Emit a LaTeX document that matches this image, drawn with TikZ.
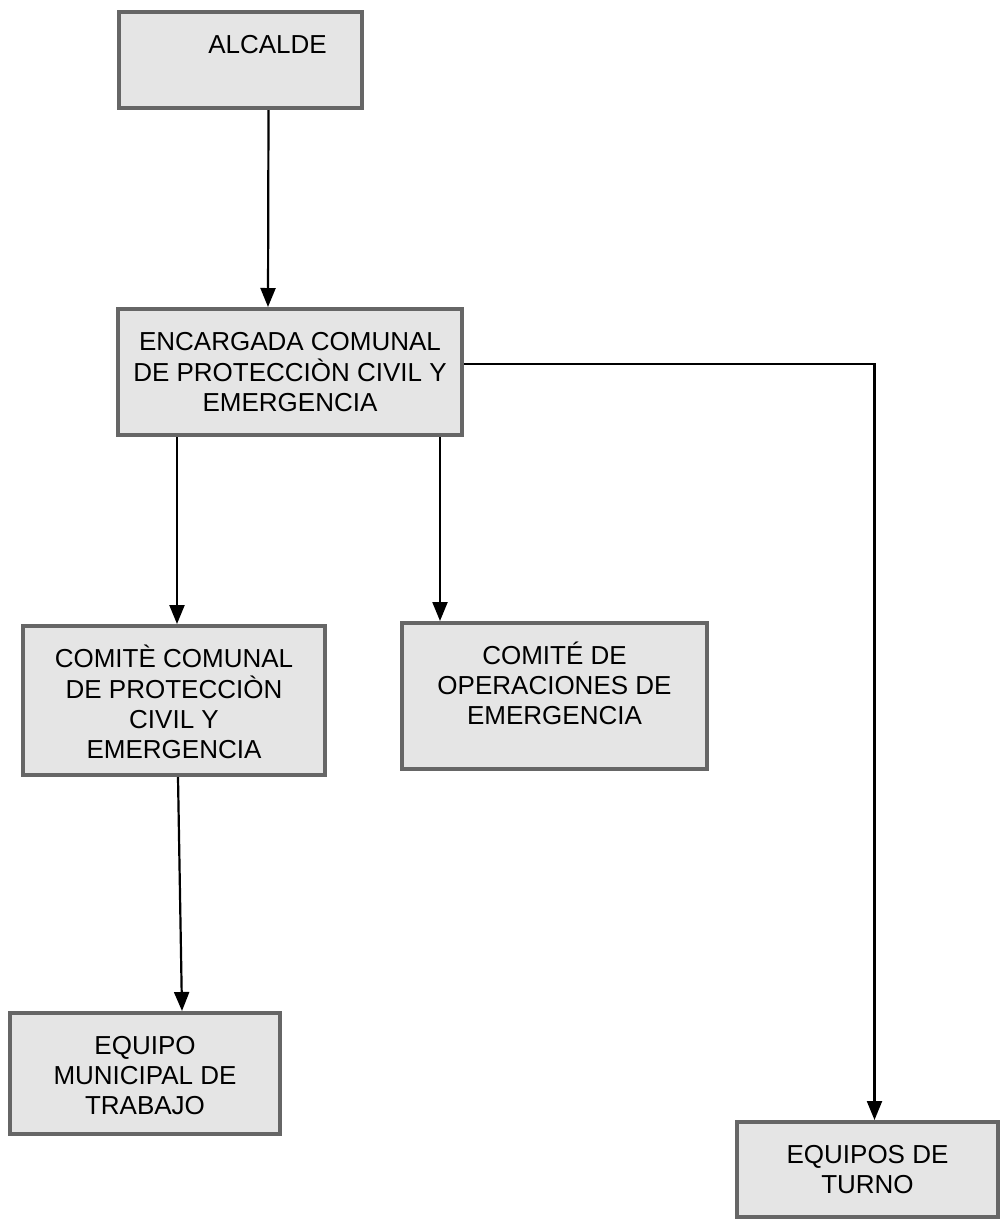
\documentclass[tikz,border=0pt]{standalone}
\usepackage{fontspec}
\setmainfont{Liberation Sans}
\usetikzlibrary{arrows.meta}
\newcommand{\boxlines}[1]{\begin{tabular}[t]{@{}c@{}}#1\end{tabular}}
\begin{document}
\begin{tikzpicture}[x=1pt, y=-1pt]
      \tikzstyle{BOX} = [draw=black!60, line width=4pt, fill=black!10, rectangle, anchor=north, inner xsep=4pt, inner ysep=22pt, text height=19pt, font=\fontsize{26}{30}\selectfont]
      \tikzstyle{ARR} = [-{Triangle[width=15pt,length=19pt]}, line width=2.2pt]

      \useasboundingbox (0,0) rectangle (1007,1224);

      %%%%% NODES

      \node[BOX, minimum width=243pt, text depth=33pt](alc) at (240.5, 10) {\boxlines{\hspace*{54pt}ALCALDE}};

      \node[BOX, minimum width=344pt, text depth=63pt](enc) at (290, 307) {\boxlines{ENCARGADA COMUNAL\\DE PROTECCIÒN CIVIL Y\\EMERGENCIA}};

      \node[BOX, minimum width=302pt, text depth=86pt](com) at (174, 624) {\boxlines{COMITÈ COMUNAL\\DE PROTECCIÒN\\CIVIL Y\\EMERGENCIA}};
      \node[BOX, minimum width=305pt, text depth=83pt](coe) at (554.5, 621) {\boxlines{COMITÉ DE\\OPERACIONES DE\\EMERGENCIA}};

      \node[BOX, minimum width=270pt, text depth=58pt](emt) at (145, 1011) {\boxlines{EQUIPO\\MUNICIPAL DE\\TRABAJO}};
      \node[BOX, minimum width=261pt, text depth=32pt](tur) at (867.5, 1120) {\boxlines{EQUIPOS DE\\TURNO}};

      %%%%% EDGES
      \draw[ARR] ([xshift=28pt]alc.south) -- ([xshift=-22pt]enc.north);

      \draw[ARR] ([xshift=-113pt]enc.south) -- ([xshift=3pt]com.north);
      \draw[ARR] ([xshift=150pt]enc.south) -- ([xshift=-114.5pt]coe.north);
      \draw[ARR] ([yshift=8pt]enc.east) -| ([xshift=7pt]tur.north);

      \draw[ARR] ([xshift=4pt]com.south) -- ([xshift=37pt]emt.north);
    \end{tikzpicture}
\end{document}
